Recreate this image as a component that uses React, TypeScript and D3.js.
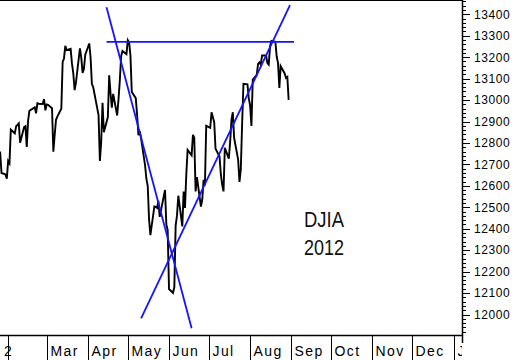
import React from 'react';
import * as d3 from 'd3';

const dates = [
  '2012-01-25','2012-01-26','2012-01-27','2012-01-30','2012-01-31',
  '2012-02-01','2012-02-02','2012-02-03','2012-02-06','2012-02-07','2012-02-08','2012-02-09','2012-02-10',
  '2012-02-13','2012-02-14','2012-02-15','2012-02-16','2012-02-17','2012-02-21','2012-02-22','2012-02-23',
  '2012-02-24','2012-02-27','2012-02-28','2012-02-29',
  '2012-03-01','2012-03-02','2012-03-05','2012-03-06','2012-03-07','2012-03-08','2012-03-09','2012-03-12',
  '2012-03-13','2012-03-14','2012-03-15','2012-03-16','2012-03-19','2012-03-20','2012-03-21','2012-03-22',
  '2012-03-23','2012-03-26','2012-03-27','2012-03-28','2012-03-29','2012-03-30',
  '2012-04-02','2012-04-03','2012-04-04','2012-04-05','2012-04-09','2012-04-10','2012-04-11','2012-04-12',
  '2012-04-13','2012-04-16','2012-04-17','2012-04-18','2012-04-19','2012-04-20','2012-04-23','2012-04-24',
  '2012-04-25','2012-04-26','2012-04-27','2012-04-30',
  '2012-05-01','2012-05-02','2012-05-03','2012-05-04','2012-05-07','2012-05-08','2012-05-09','2012-05-10',
  '2012-05-11','2012-05-14','2012-05-15','2012-05-16','2012-05-17','2012-05-18','2012-05-21','2012-05-22',
  '2012-05-23','2012-05-24','2012-05-25','2012-05-29','2012-05-30','2012-05-31',
  '2012-06-01','2012-06-04','2012-06-05','2012-06-06','2012-06-07','2012-06-08','2012-06-11','2012-06-12',
  '2012-06-13','2012-06-14','2012-06-15','2012-06-18','2012-06-19','2012-06-20','2012-06-21','2012-06-22',
  '2012-06-25','2012-06-26','2012-06-27','2012-06-28','2012-06-29',
  '2012-07-02','2012-07-03','2012-07-05','2012-07-06','2012-07-09','2012-07-10','2012-07-11','2012-07-12',
  '2012-07-13','2012-07-16','2012-07-17','2012-07-18','2012-07-19','2012-07-20','2012-07-23','2012-07-24',
  '2012-07-25','2012-07-26','2012-07-27','2012-07-30','2012-07-31',
  '2012-08-01','2012-08-02','2012-08-03','2012-08-06','2012-08-07','2012-08-08','2012-08-09','2012-08-10',
  '2012-08-13','2012-08-14','2012-08-15','2012-08-16','2012-08-17','2012-08-20','2012-08-21','2012-08-22',
  '2012-08-23','2012-08-24','2012-08-27','2012-08-28','2012-08-29','2012-08-30',
];

const closes = [
  12758, 12756, 12660, 12653, 12633,
  12716, 12705, 12862, 12845, 12878, 12884, 12891, 12801,
  12874, 12878, 12781, 12904, 12950, 12966, 12938, 12985,
  12983, 12982, 13005, 12952,
  12980, 12978, 12962, 12759, 12837, 12908, 12923, 12960,
  13178, 13194, 13253, 13233, 13239, 13171, 13125, 13046,
  13081, 13241, 13198, 13127, 13146, 13212,
  13264, 13199, 13075, 13060, 12930, 12716, 12806, 12987,
  12850, 12921, 13116, 13033, 12965, 13029, 12928, 13002,
  13091, 13205, 13229, 13214,
  13279, 13269, 13207, 13038, 13009, 12932, 12836, 12855,
  12821, 12695, 12632, 12599, 12443, 12370, 12504, 12502,
  12497, 12530, 12455, 12581, 12420, 12393,
  12119, 12101, 12127, 12415, 12461, 12554, 12411, 12573,
  12497, 12652, 12767, 12742, 12838, 12824, 12574, 12641,
  12503, 12535, 12628, 12602, 12880,
  12871, 12943, 12897, 12773, 12737, 12653, 12605, 12574,
  12777, 12727, 12806, 12909, 12943, 12823, 12722, 12618,
  12677, 12888, 13076, 13073, 13009,
  12976, 12879, 13096, 13118, 13169, 13176, 13165, 13208,
  13208, 13172, 13165, 13250, 13276, 13272, 13203, 13173,
  13057, 13158, 13124, 13103, 13108, 13001,
];

const resistanceDates = ['2012-04-15', '2012-09-03'];
const resistanceValues = [13271, 13271];
const downTrendDates = ['2012-04-15', '2012-06-18'];
const downTrendValues = [13433, 11936];
const upTrendDates = ['2012-05-11', '2012-08-31'];
const upTrendValues = [11982, 13443];

const monthStarts = [
  '2012-02-01','2012-03-01','2012-04-01','2012-05-01','2012-06-01','2012-07-01',
  '2012-08-01','2012-09-01','2012-10-01','2012-11-01','2012-12-01','2013-01-01',
];
const monthLabels = ['2','Mar','Apr','May','Jun','Jul','Aug','Sep','Oct','Nov','Dec','Jan'];

const yTickValues = [12000,12100,12200,12300,12400,12500,12600,12700,12800,12900,13000,13100,13200,13300,13400];
const yTickLabels = ['12000','12100','12200','12300','12400','12500','12600','12700','12800','12900','13000','13100','13200','13300','13400'];

const titleLines = ['DJIA', '2012'];

const W = 520;
const H = 360;
const PLOT_RIGHT = 462;
const PLOT_BOTTOM = 335;
const FONT = '"Liberation Sans", Arial, Helvetica, sans-serif';
const BLUE = '#1414ff';

const parse = d3.utcParse('%Y-%m-%d');

export default function App() {
  const x = d3.scaleUtc()
    .domain([parse('2012-03-01') as Date, parse('2013-01-01') as Date])
    .range([46.7, 453.5]);
  const y = d3.scaleLinear().domain([12000, 13400]).range([314.5, 14.3]);

  const line = d3.line<[Date, number]>().x(d => x(d[0])).y(d => y(d[1]));
  const series: [Date, number][] = dates.map((d, i) => [parse(d) as Date, closes[i]]);
  const mk = (ds: string[], vs: number[]): [Date, number][] => ds.map((d, i) => [parse(d) as Date, vs[i]]);

  const minorTicks = d3.range(11920, 13461, 20).filter(v => v % 100 !== 0);

  return (
    <svg width={W} height={H} style={{ position: 'absolute', left: 0, top: 0, background: '#fff' }}>
      <defs>
        <clipPath id="plot">
          <rect x={0} y={0} width={PLOT_RIGHT} height={PLOT_BOTTOM} />
        </clipPath>
        <clipPath id="xlab">
          <rect x={0} y={PLOT_BOTTOM} width={PLOT_RIGHT} height={H - PLOT_BOTTOM} />
        </clipPath>
      </defs>
      <rect x={0} y={0} width={W} height={H} fill="#fff" />

      {/* frame */}
      <line x1={0} x2={PLOT_RIGHT} y1={0.5} y2={0.5} stroke="#000" strokeWidth={1} />
      <line x1={0} x2={PLOT_RIGHT + 0.5} y1={PLOT_BOTTOM + 0.5} y2={PLOT_BOTTOM + 0.5} stroke="#000" strokeWidth={1.5} />
      <line x1={PLOT_RIGHT + 0.5} x2={PLOT_RIGHT + 0.5} y1={0} y2={343} stroke="#000" strokeWidth={1.5} />

      {/* y ticks */}
      {minorTicks.map(v => (
        <line key={'m' + v} x1={PLOT_RIGHT} x2={PLOT_RIGHT + 4} y1={Math.round(y(v)) + 0.5} y2={Math.round(y(v)) + 0.5} stroke="#000" strokeWidth={1} />
      ))}
      {yTickValues.map((v, i) => (
        <g key={'t' + v}>
          <line x1={PLOT_RIGHT} x2={PLOT_RIGHT + 8} y1={Math.round(y(v)) + 0.5} y2={Math.round(y(v)) + 0.5} stroke="#000" strokeWidth={1} />
          <text x={PLOT_RIGHT + 12} y={y(v)} dy="0.36em" fontFamily={FONT} fontSize={12} letterSpacing={0.6} fill="#000">
            {yTickLabels[i]}
          </text>
        </g>
      ))}

      {/* month separators and labels */}
      <g clipPath="url(#xlab)">
        {monthStarts.map((m, i) => {
          const px = Math.round(x(parse(m) as Date)) + 0.5;
          return (
            <g key={m}>
              <line x1={px} x2={px} y1={PLOT_BOTTOM} y2={H} stroke="#000" strokeWidth={1} />
              <text
                x={i === 0 ? px : px + 3}
                y={356}
                textAnchor={i === 0 ? 'middle' : 'start'}
                fontFamily={FONT}
                fontSize={14}
                letterSpacing={1.4}
                fill="#000"
              >
                {monthLabels[i]}
              </text>
            </g>
          );
        })}
      </g>

      {/* data */}
      <g clipPath="url(#plot)">
        <path d={line(series) || ''} fill="none" stroke="#000" strokeWidth={1.9} strokeLinejoin="miter" />
        <path d={line(mk(resistanceDates, resistanceValues)) || ''} fill="none" stroke={BLUE} strokeWidth={1.8} />
        <path d={line(mk(downTrendDates, downTrendValues)) || ''} fill="none" stroke={BLUE} strokeWidth={1.8} />
        <path d={line(mk(upTrendDates, upTrendValues)) || ''} fill="none" stroke={BLUE} strokeWidth={1.8} />
      </g>

      {/* title */}
      {titleLines.map((t, i) => (
        <text key={t} x={304} y={227 + i * 28} fontFamily={FONT} fontSize={22} textLength={40} lengthAdjust="spacingAndGlyphs" fill="#111">
          {t}
        </text>
      ))}
    </svg>
  );
}
